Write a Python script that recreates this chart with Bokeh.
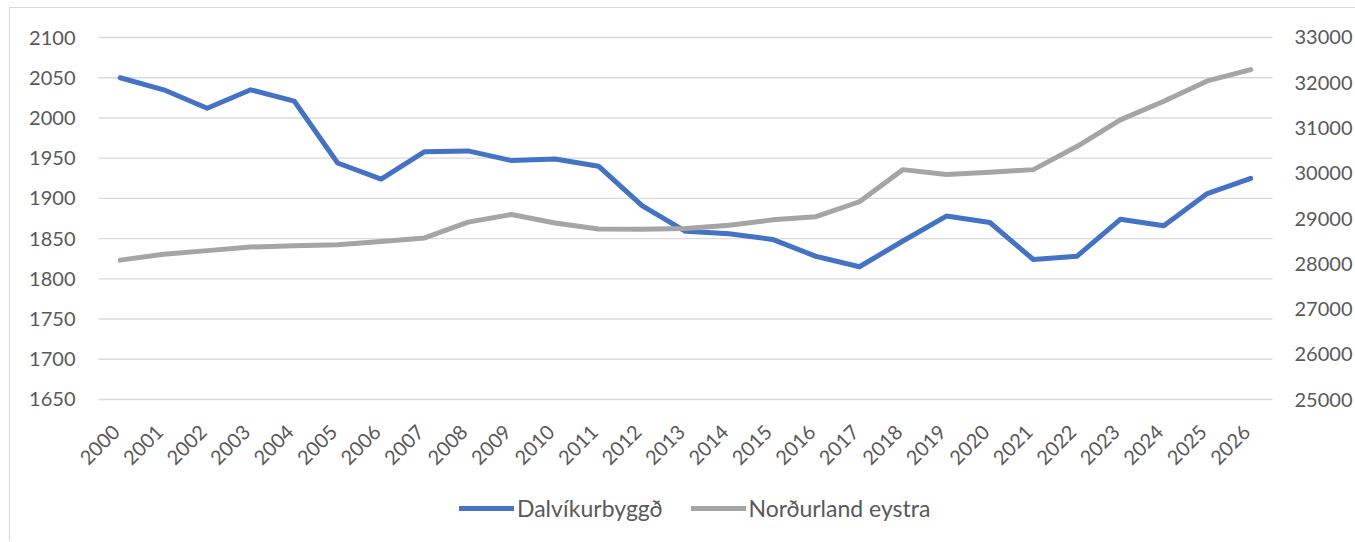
from math import pi
from bokeh.plotting import figure
from bokeh.models import Range1d, LinearAxis, FixedTicker, Legend, LegendItem
from bokeh.core.properties import value
from bokeh.embed import file_html
from bokeh.resources import INLINE

years = [str(y) for y in range(2000, 2027)]
dalvik = [2050, 2035, 2012, 2035, 2021, 1944, 1924, 1958, 1959, 1947, 1949, 1940,
          1891, 1859, 1856, 1849, 1828, 1815, 1847, 1878, 1870, 1824, 1828, 1874,
          1866, 1906, 1925]
nordurland = [28080, 28210, 28290, 28370, 28400, 28420, 28490, 28570, 28920, 29090,
              28900, 28770, 28760, 28780, 28850, 28970, 29040, 29370, 30080, 29970,
              30020, 30080, 30590, 31180, 31590, 32040, 32290]
left_ticks = [1650, 1700, 1750, 1800, 1850, 1900, 1950, 2000, 2050, 2100]
right_ticks = [25000, 26000, 27000, 28000, 29000, 30000, 31000, 32000, 33000]
series_names = ["Dalvíkurbyggð", "Norðurland eystra"]

FONT = "Lato"
TXT = "#595959"
BLUE = "#4472C4"
GRAY = "#A5A5A5"

xs = list(range(len(years)))          # category positions (one slot per year)

# geometry: plot area 1174 px wide (27 slots), value axes span 366 px;
# the frame extends 20 px to each side and down to hold the year labels + legend
PLOT_W = 1174
SIDE = 20
AXIS_PX = 366
FRAME_H = 506
slot_px = PLOT_W / len(years)
xpad = SIDE / slot_px
L_TOP, L_BOT = 2102.5, 1647.5
R_TOP, R_BOT = 33044.0, 24956.0
l_start = L_TOP - (L_TOP - L_BOT) * FRAME_H / AXIS_PX
r_start = R_TOP - (R_TOP - R_BOT) * FRAME_H / AXIS_PX

p = figure(frame_width=PLOT_W + 2 * SIDE, frame_height=FRAME_H, output_backend="svg",
           toolbar_location=None,
           x_range=Range1d(-0.5 - xpad, len(years) - 0.5 + xpad),
           y_range=Range1d(l_start, L_TOP),
           min_border_left=88 - SIDE, min_border_right=83 - SIDE,
           min_border_top=27, min_border_bottom=0)
p.extra_y_ranges = {"right": Range1d(r_start, R_TOP)}
p.outline_line_color = None
p.background_fill_color = "white"
p.border_fill_color = "white"
p.styles = {"margin-left": "9px", "margin-top": "7px",
            "border-left": "1px solid #d9d9d9", "border-top": "1px solid #d9d9d9"}

# horizontal gridlines across the plot area only
p.segment(x0=[-0.5] * len(left_ticks), x1=[len(years) - 0.5] * len(left_ticks),
          y0=left_ticks, y1=left_ticks, line_color="#d9d9d9", line_width=1.4)

r1 = p.line(xs, dalvik, line_color=BLUE, line_width=5, line_join="round", line_cap="round")
r2 = p.line(xs, nordurland, line_color=GRAY, line_width=5, line_join="round",
            line_cap="round", y_range_name="right")

p.xgrid.grid_line_color = None
p.ygrid.grid_line_color = None

yl = p.yaxis[0]
yl.ticker = FixedTicker(ticks=left_ticks)

yr = LinearAxis(y_range_name="right", ticker=FixedTicker(ticks=right_ticks))
p.add_layout(yr, "right")

for ax in [yl, yr]:
    ax.axis_line_color = None
    ax.major_tick_line_color = None
    ax.minor_tick_line_color = None
    ax.major_tick_out = 0
    ax.major_tick_in = 0
    ax.minor_tick_out = 0
    ax.major_label_text_font = FONT
    ax.major_label_text_font_size = "20px"
    ax.major_label_text_color = TXT

yl.major_label_standoff = 23 - SIDE
yr.major_label_standoff = 22 - SIDE
p.xaxis.visible = False

# category labels, rotated 45 degrees, hanging below the bottom gridline
p.text(x=xs, y=[left_ticks[0]] * len(years), text=years, angle=pi / 4,
       text_align="right", text_baseline="middle", x_offset=-4, y_offset=29,
       text_font=value(FONT), text_font_size="20px", text_color=TXT)

legend = Legend(items=[LegendItem(label=series_names[0], renderers=[r1]),
                       LegendItem(label=series_names[1], renderers=[r2])],
                orientation="horizontal", location=(361 + SIDE, 19),
                label_text_font=FONT, label_text_font_size="23px", label_text_color=TXT,
                glyph_width=55, glyph_height=20, label_height=20, label_standoff=3,
                spacing=28, padding=0, margin=0, border_line_color=None,
                background_fill_alpha=0)
p.add_layout(legend, "center")

open("out.html", "w").write(file_html(p, INLINE))
